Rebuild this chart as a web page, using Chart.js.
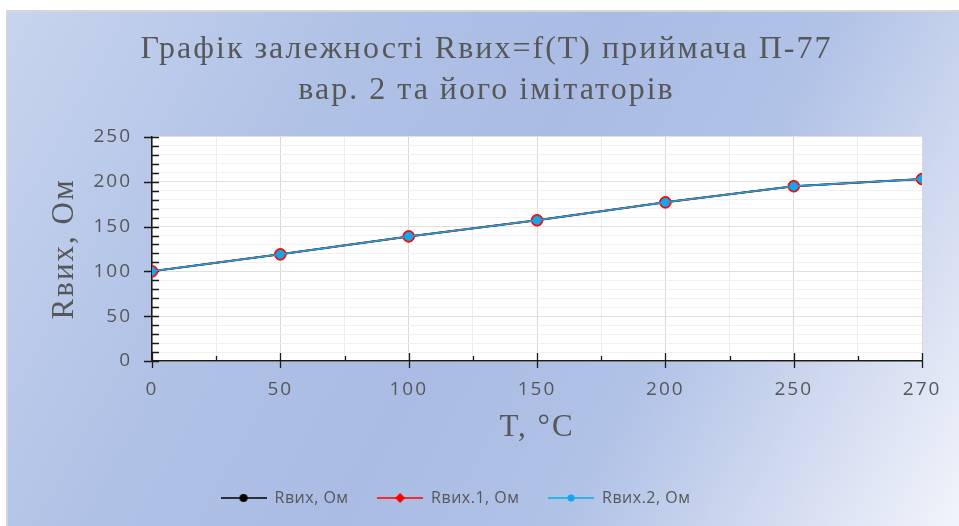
<!DOCTYPE html>
<html>
<head>
<meta charset="utf-8">
<script src="https://cdn.jsdelivr.net/npm/chart.js@4/dist/chart.umd.min.js"></script>
<style>
  html, body { margin: 0; padding: 0; background: #fff; overflow: hidden; }
  canvas { display: block; }
</style>
</head>
<body>
<canvas id="chart" width="959" height="526"></canvas>
<script>
// Temperature points (category labels on the T axis)
const tLabels = ['0', '50', '100', '150', '200', '250', '270'];
// Output resistance of the receiver and its two simulators, Ohm
const rOut  = [100, 119, 139, 157, 177, 195, 203];
const rOut1 = [100, 119, 139, 157, 177, 195, 203];
const rOut2 = [100, 119, 139, 157, 177, 195, 203];
const seriesNames = ['Rвих, Ом', 'Rвих.1, Ом', 'Rвих.2, Ом'];
// Labelled values of the resistance axis
const yTicks = [0, 50, 100, 150, 200, 250];
const titleLines = ['Графік залежності Rвих=f(T) приймача П-77', 'вар. 2 та його імітаторів'];

const TEXT = '#575757';
const SPACING = '2px';
const LEGEND_SPACING = '0.5px';

const toPoints = arr => arr.map((v, i) => ({ x: i, y: v }));

// Small line-with-marker swatches for the legend
function swatch(color, shape, r) {
  const c = document.createElement('canvas');
  c.width = 46; c.height = 14;
  const g = c.getContext('2d');
  g.strokeStyle = color; g.lineWidth = 1.5;
  g.beginPath(); g.moveTo(0, 7); g.lineTo(46, 7); g.stroke();
  g.fillStyle = color;
  g.beginPath();
  if (shape === 'diamond') {
    g.moveTo(23, 7 - r); g.lineTo(23 + r, 7); g.lineTo(23, 7 + r); g.lineTo(23 - r, 7); g.closePath();
  } else {
    g.arc(23, 7, r, 0, Math.PI * 2);
  }
  g.fill();
  return c;
}
const legendMarks = [swatch('#000000', 'circle', 4), swatch('#ff0000', 'diamond', 5), swatch('#10a8e8', 'circle', 3.5)];

// Run a box's own method with a different letter spacing
function withSpacing(fn, spacing) {
  return function (...args) {
    const c = this.ctx;
    const prev = c.letterSpacing;
    c.letterSpacing = spacing;
    const res = fn.apply(this, args);
    c.letterSpacing = prev;
    return res;
  };
}

// Page background: white margin, thin frame, blue gradient panel, white plot area
const backdrop = {
  id: 'backdrop',
  beforeLayout(chart) {
    chart.ctx.letterSpacing = SPACING;
    const lg = chart.legend;
    if (lg && !lg._spaced) {
      lg._spaced = true;
      lg.fit = withSpacing(lg.fit, LEGEND_SPACING);
      lg.draw = withSpacing(lg.draw, LEGEND_SPACING);
    }
  },
  afterLayout(chart) {
    if (chart.titleBlock) { chart.titleBlock.left += 21; chart.titleBlock.right += 21; }
    if (chart.legend) { chart.legend.left -= 10; chart.legend.right -= 10; }
  },
  beforeDraw(chart) {
    const { ctx, width, height, chartArea: a } = chart;
    ctx.save();
    ctx.fillStyle = '#ffffff';
    ctx.fillRect(0, 0, width, height);
    ctx.fillStyle = '#d6d6d6';
    ctx.fillRect(6, 10, width - 6, 2);
    ctx.fillRect(6, 10, 2, height - 10);
    const g = ctx.createLinearGradient(0, 0, width, height);
    g.addColorStop(0, '#c8d5ee');
    g.addColorStop(0.3, '#b0c1e6');
    g.addColorStop(0.5, '#aabce4');
    g.addColorStop(0.68, '#b1c2e7');
    g.addColorStop(0.85, '#d3dcf0');
    g.addColorStop(1, '#f1f4fb');
    ctx.fillStyle = g;
    ctx.fillRect(8, 12, width - 8, height - 12);
    ctx.fillStyle = '#ffffff';
    ctx.fillRect(a.left, a.top, a.right - a.left, a.bottom - a.top);
    ctx.restore();
    ctx.letterSpacing = SPACING;
  }
};

// Major ticks cross the axes, minor ticks sit inside the plot
const axisTicks = {
  id: 'axisTicks',
  beforeDatasetsDraw(chart) {
    const { ctx, chartArea: { left, bottom }, scales: { x, y } } = chart;
    ctx.save();
    ctx.strokeStyle = '#1a1a1a';
    ctx.lineWidth = 1.3;
    ctx.beginPath();
    y.ticks.forEach(t => {
      const py = Math.round(y.getPixelForValue(t.value)) + 0.5;
      const major = yTicks.includes(t.value);
      ctx.moveTo(major ? left - 8 : left, py);
      ctx.lineTo(left + 7, py);
    });
    x.ticks.forEach(t => {
      const px = Math.round(x.getPixelForValue(t.value)) + 0.5;
      const major = Number.isInteger(t.value);
      ctx.moveTo(px, major ? bottom - 8 : bottom - 5);
      ctx.lineTo(px, major ? bottom + 7 : bottom);
    });
    ctx.stroke();
    ctx.restore();
  }
};

new Chart(document.getElementById('chart'), {
  type: 'line',
  data: {
    datasets: [
      {
        label: seriesNames[0], data: toPoints(rOut),
        borderColor: '#000000', backgroundColor: '#000000', borderWidth: 2,
        pointStyle: 'circle', pointRadius: 4, pointBorderWidth: 1, order: 3
      },
      {
        label: seriesNames[1], data: toPoints(rOut1),
        borderColor: '#ff0000', backgroundColor: '#ff0000', borderWidth: 1.5,
        pointStyle: 'circle', pointRadius: 5.8, pointBorderWidth: 1, order: 2
      },
      {
        label: seriesNames[2], data: toPoints(rOut2),
        borderColor: '#10a8e8', backgroundColor: '#10a8e8', borderWidth: 1.5,
        pointStyle: 'circle', pointRadius: 4.3, pointBorderWidth: 0.5, order: 1
      }
    ]
  },
  options: {
    responsive: false,
    animation: false,
    events: [],
    layout: { padding: { left: 8, right: 36, top: 12, bottom: 10 } },
    plugins: {
      tooltip: { enabled: false },
      title: {
        display: true,
        text: titleLines,
        color: TEXT,
        font: { family: 'Liberation Serif', size: 32, weight: 'normal', lineHeight: 1.28 },
        padding: { top: 17.5, bottom: 25.5 }
      },
      legend: {
        position: 'bottom',
        labels: {
          color: TEXT,
          font: { family: 'Open Sans', size: 16 },
          usePointStyle: true,
          pointStyleWidth: 46,
          padding: 28.5,
          sort: (a, b) => a.datasetIndex - b.datasetIndex,
          generateLabels(chart) {
            const items = Chart.defaults.plugins.legend.labels.generateLabels(chart);
            items.forEach(it => { it.pointStyle = legendMarks[it.datasetIndex]; });
            return items;
          }
        }
      }
    },
    scales: {
      x: {
        type: 'linear',
        min: 0,
        max: tLabels.length - 1,
        afterFit(scale) { scale.height = 100.5; },
        border: { color: '#1a1a1a', width: 1.5 },
        grid: {
          drawTicks: false,
          color: ctx => Number.isInteger(ctx.tick.value) ? '#d9d9d9' : '#ececec'
        },
        ticks: {
          stepSize: 0.5,
          autoSkip: false,
          maxRotation: 0,
          padding: 17.6,
          color: TEXT,
          font: { family: 'Open Sans', size: 19 },
          callback: v => Number.isInteger(v) ? tLabels[v] : ''
        },
        title: {
          display: true,
          text: 'T, °C',
          color: TEXT,
          font: { family: 'Liberation Serif', size: 31, weight: 'normal', lineHeight: 1.2 },
          padding: { top: 0, bottom: 15 }
        }
      },
      y: {
        min: 0,
        max: 250,
        afterFit(scale) { scale.width = 144; },
        border: { color: '#1a1a1a', width: 1.5 },
        grid: {
          drawTicks: false,
          color: ctx => yTicks.includes(ctx.tick.value) ? '#e0e0e0' : '#f0f0f0'
        },
        ticks: {
          stepSize: 10,
          autoSkip: false,
          padding: 20,
          color: TEXT,
          font: { family: 'Open Sans', size: 19 },
          callback: v => yTicks.includes(v) ? String(v) : ''
        },
        title: {
          display: true,
          text: 'Rвих, Ом',
          color: TEXT,
          font: { family: 'Liberation Serif', size: 31, weight: 'normal', lineHeight: 1.2 },
          padding: { top: 38.5, bottom: 0 }
        }
      }
    }
  },
  plugins: [backdrop, axisTicks]
});
</script>
</body>
</html>
